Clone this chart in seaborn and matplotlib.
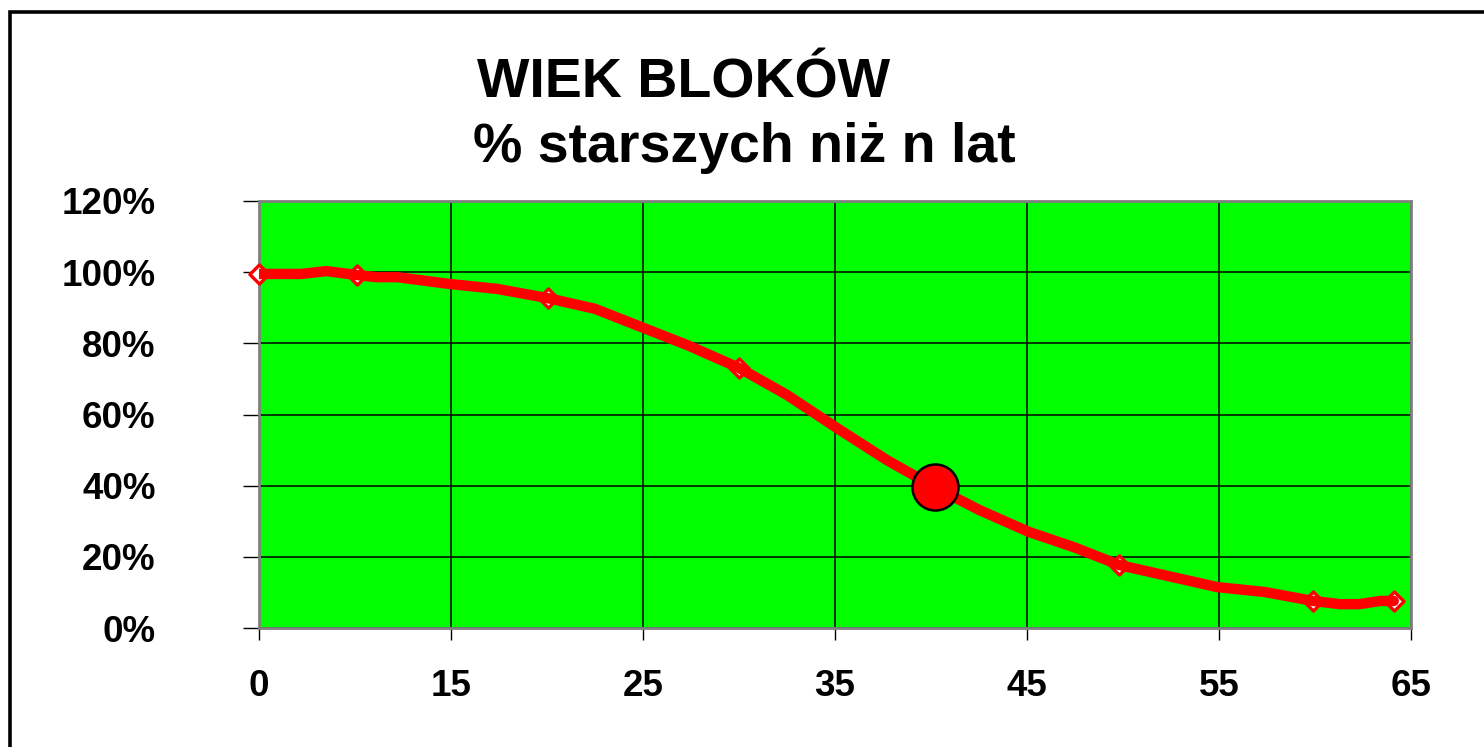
import pandas as pd
import seaborn as sns
import matplotlib.pyplot as plt
from matplotlib.patches import Rectangle
from matplotlib.ticker import PercentFormatter

# Dane (oś X kategoryjna: pozycje 0..6 -> etykiety lat)
x_pos = [0.0, 0.22, 0.35, 0.51, 0.61, 0.72, 0.99, 1.24, 1.505, 1.75, 1.99,
         2.24, 2.50, 2.75, 3.01, 3.27, 3.52, 3.75, 4.01, 4.25, 4.48, 4.99,
         5.24, 5.49, 5.63, 5.73, 5.84, 5.91]
procent = [0.995, 0.995, 1.003, 0.992, 0.986, 0.986, 0.967, 0.953, 0.927,
           0.897, 0.846, 0.793, 0.731, 0.655, 0.562, 0.472, 0.396, 0.332,
           0.270, 0.226, 0.177, 0.115, 0.101, 0.076, 0.067, 0.067, 0.076,
           0.076]
# punkty z markerami (rombami)
marker_x = [0.0, 0.51, 1.505, 2.50, 4.48, 5.49, 5.91]
marker_y = [0.995, 0.992, 0.927, 0.731, 0.177, 0.076, 0.076]
# wyróżniony punkt
punkt_x = [3.52]
punkt_y = [0.396]

tick_pos = [0, 1, 2, 3, 4, 5, 6]
tick_lata = ["0", "15", "25", "35", "45", "55", "65"]

sns.set_style("white")
plt.rcParams['font.family'] = ['Liberation Sans', 'DejaVu Sans']
plt.rcParams['font.weight'] = 'bold'
plt.rcParams['text.color'] = 'black'
plt.rcParams['xtick.color'] = 'black'
plt.rcParams['ytick.color'] = 'black'

fig = plt.figure(figsize=(14.84, 7.47), dpi=100)
ax = fig.add_axes([259 / 1484, 1 - 628 / 747, 1152 / 1484, 427 / 747])
ax.set_facecolor('#00ff00')

df = pd.DataFrame({"x": x_pos, "y": procent})
df_m = pd.DataFrame({"x": marker_x, "y": marker_y})
df_p = pd.DataFrame({"x": punkt_x, "y": punkt_y})

sns.scatterplot(data=df_m, x="x", y="y", marker="D", s=95, facecolor="white",
                edgecolor="red", linewidth=2.4, ax=ax, zorder=3, clip_on=False)
sns.lineplot(data=df, x="x", y="y", color="red", linewidth=7.5, ax=ax,
             zorder=4, sort=False)
sns.scatterplot(data=df_p, x="x", y="y", s=1100, color="red",
                edgecolor="black", linewidth=1.8, ax=ax, zorder=5)

ax.set_xlim(0, 6)
ax.set_ylim(0, 1.2)
ax.set_xticks(tick_pos)
ax.set_xticklabels(tick_lata)
ax.set_yticks([0, 0.2, 0.4, 0.6, 0.8, 1.0, 1.2])
ax.yaxis.set_major_formatter(PercentFormatter(1.0, decimals=0))
ax.set_xlabel("")
ax.set_ylabel("")

ax.grid(True, color="black", linewidth=1.1)
ax.set_axisbelow(True)
for s in ax.spines.values():
    s.set_color("#808080")
    s.set_linewidth(2)

ax.tick_params(axis="y", direction="out", length=11.5, width=1, colors="black",
               pad=63, labelsize=26.5, left=True)
ax.tick_params(axis="x", direction="out", length=8.5, width=1, colors="black",
               pad=21, labelsize=26.5, bottom=True)
for lab in ax.get_xticklabels() + ax.get_yticklabels():
    lab.set_fontweight("bold")

fig.text(477 / 1484, 1 - 97 / 747, "WIEK BLOKÓW", fontsize=40,
         fontweight="bold", ha="left", va="baseline", color="black")
fig.text(473 / 1484, 1 - 162 / 747, "% starszych niż n lat", fontsize=40,
         fontweight="bold", ha="left", va="baseline", color="black")

# ramka wokół wykresu
fig.patches.append(Rectangle((10 / 1484, -0.1), 1.1, 1 - 11.5 / 747 + 0.1,
                             transform=fig.transFigure, fill=False,
                             edgecolor="black", linewidth=2.6))

fig.savefig("out.png", dpi=100)
